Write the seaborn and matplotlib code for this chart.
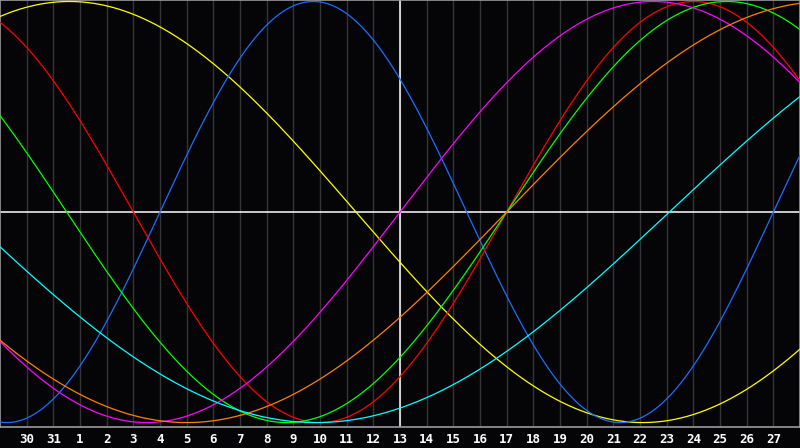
import matplotlib
matplotlib.use("Agg")
import matplotlib.pyplot as plt
import numpy as np
import pandas as pd
import seaborn as sns

# day labels along the bottom (index 0 is the left edge)
days = [29, 30, 31] + list(range(1, 29))

# cycles: name, period in days, index where the curve crosses zero going up
cycle_names = ["aesthetic", "physical", "emotional", "intellectual",
               "intuitive", "awareness", "spiritual"]
periods = [43, 23, 28, 33, 38, 48, 53]
zero_up = [-8.15, 6.0, 19.0, 19.0, 15.0, 19.0, 25.1]
colors = ["#ffff00", "#1a6fff", "#ff0000", "#00ff00",
          "#ff00ff", "#ff8000", "#00ffff"]

# build long table
t = np.linspace(0, len(days) - 1, 900)
rows = []
for name, p, z in zip(cycle_names, periods, zero_up):
    rows.append(pd.DataFrame({"day": t,
                              "value": np.sin(2 * np.pi * (t - z) / p),
                              "cycle": name}))
df = pd.concat(rows, ignore_index=True)

sns.set_style("dark")
bg = "#050508"
fig = plt.figure(figsize=(8, 4.48), dpi=100, facecolor=bg)
ax = fig.add_axes([0, 21 / 448, 1, 427 / 448])
ax.set_facecolor(bg)

# day grid
for i in range(1, len(days) - 1):
    ax.axvline(i, color="#353535", lw=1.0, zorder=1)

ax.axhline(0, color="white", lw=1.1, zorder=2)
ax.axvline(15, color="white", lw=1.1, zorder=2)

sns.lineplot(data=df, x="day", y="value", hue="cycle",
             palette=dict(zip(cycle_names, colors)), estimator=None,
             lw=0.9, legend=False, ax=ax, zorder=3)

ax.set_xlim(0, len(days) - 1)
ax.set_ylim(-1.021, 1.007)
ax.set_yticks([])
ticks = list(range(1, len(days) - 1))
ax.set_xticks(ticks)
ax.set_xticklabels([str(days[i]) for i in ticks], color="white",
                   fontsize=9, fontweight="bold", family="DejaVu Sans Mono")
ax.tick_params(axis="x", length=0, pad=4)
ax.set_xlabel("")
ax.set_ylabel("")
ax.grid(False)
for s in ax.spines.values():
    s.set_visible(True)
    s.set_color("#9a9a9a")
    s.set_linewidth(1.2)

fig.savefig("out.png", dpi=100, facecolor=bg)
